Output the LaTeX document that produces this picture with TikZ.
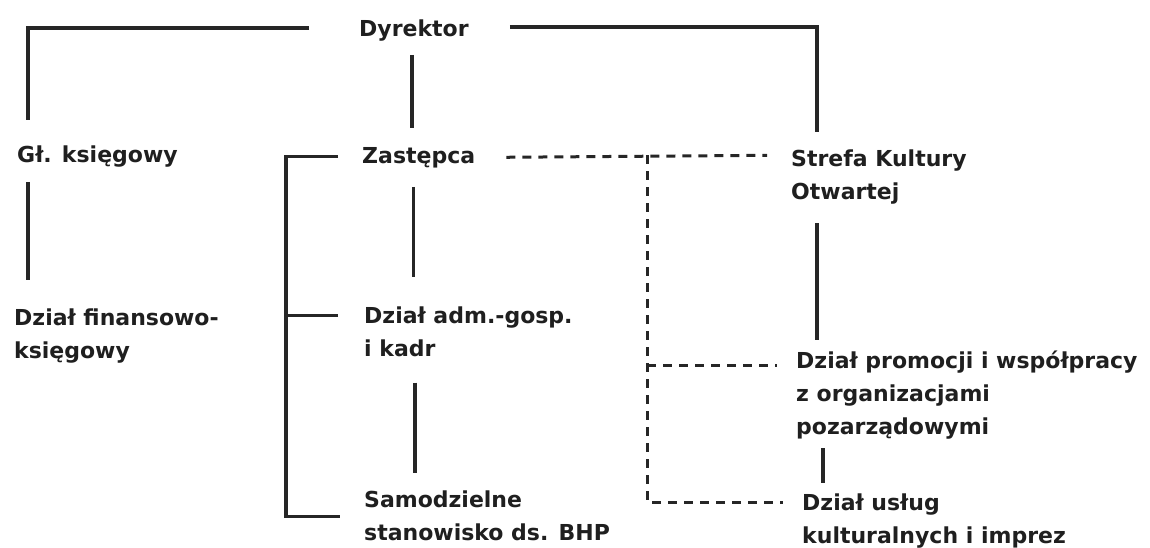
\documentclass[tikz,border=0pt]{standalone}
\usepackage{fontspec}
\setmainfont{DejaVu Sans}
\usetikzlibrary{calc}

\begin{document}
\begin{tikzpicture}[
  x=1pt, y=-1pt,
  unit/.style={inner sep=0pt, align=left, text=black!88,
               font=\bfseries\fontsize{22}{33}\selectfont},
  link/.style={draw=black!85, line width=3.3pt},
  dlink/.style={draw=black!85, line width=3pt, dash pattern=on 9pt off 7pt}
]
  \useasboundingbox (0,0) rectangle (1150,547);

  \node[unit, anchor=base west] (dyr) at (359,36) {Dyrektor};
  \node[unit, anchor=base west] (glk) at (17,162) {Gł. księgowy};
  \node[unit, anchor=north west] (dfk) at (14,308.3) {Dział finansowo-\\księgowy};
  \node[unit, anchor=base west] (zast) at (362,163) {Zastępca};
  \node[unit, anchor=north west] (dag) at (364,306.3) {Dział adm.-gosp.\\i kadr};
  \node[unit, anchor=north west] (sam) at (364,490.3) {Samodzielne\\stanowisko ds. BHP};
  \node[unit, anchor=north west] (skot) at (791,149.3) {Strefa Kultury\\Otwartej};
  \node[unit, anchor=north west] (dpw) at (796,350.3) {Dział promocji i współpracy\\z organizacjami\\pozarządowymi};
  \node[unit, anchor=north west] (dukl) at (802,493.3) {Dział usług\\kulturalnych i imprez};

  % solid lines
  \draw[link] ($(dyr.west)+(-50,-2)$) -| ($(glk.north west)+(11,-25)$);
  \draw[link] ($(dyr.east)+(41,-3)$) -| ($(skot.north west)+(26,-17)$);
  \draw[link] ($(dyr.south)+(-2,14)$) -- ($(dyr.south |- zast.north)+(-2,-19)$);
  \draw[link] ($(glk.south west)+(11,15)$) -- ($(dfk.north west)+(14,-28)$);
  \draw[link] ($(zast.west)+(-24,-1)$) -- ++(-52,0) |- ($(sam.north west)+(-24,26)$);
  \draw[link] ($(dag.north west)+(-26,9)$) -- ($(dag.north west)+(-78,9)$);
  \draw[link] ($(zast.south)+(-5,19)$) -- ($(zast.south |- dag.north)+(-5,-29)$);
  \draw[link] ($(dag.south west)+(51,26)$) -- ($(sam.north west)+(51,-17)$);
  \draw[link] ($(skot.south west)+(26,19)$) -- ($(dpw.north west)+(21,-10)$);
  \draw[link] ($(dpw.south west)+(27,9)$) -- ($(dukl.north west)+(21,-10)$);

  % dashed lines
  \coordinate (jn) at ($(skot.north west)+(-144,6)$);
  \draw[dlink] ($(zast.east)+(31,0)$) -- ($(skot.north west)+(-24,6)$);
  \draw[dlink] (jn) |- ($(dukl.north west)+(-19,9)$);
  \draw[dlink] (jn |- {$(dpw.north west)+(0,15)$}) -- ($(dpw.north west)+(-19,15)$);
\end{tikzpicture}
\end{document}
